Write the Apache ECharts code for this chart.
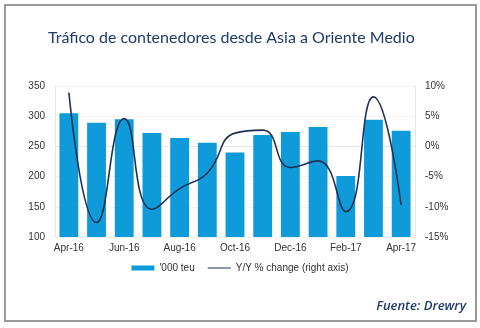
<!DOCTYPE html>
<html><head><meta charset="utf-8">
<script src="https://cdn.jsdelivr.net/npm/echarts@6/dist/echarts.min.js"></script>
<style>html,body{margin:0;padding:0;background:#fff}#c{width:480px;height:328px}</style>
</head><body><div id="c"></div>
<script>
var categories = ['Apr-16','May-16','Jun-16','Jul-16','Aug-16','Sep-16','Oct-16','Nov-16','Dec-16','Jan-17','Feb-17','Mar-17','Apr-17'];
var teu = [305, 289, 295, 272, 264, 256, 240, 269, 274, 282, 201, 294, 276];
var yoy = [8.9, -12.6, 4.6, -10.4, -7.0, -4.4, 2.2, 2.7, -3.5, -2.4, -10.8, 8.2, -9.7];
var leftTicks = [100, 350, 50];
var rightTicks = [-15, 10, 5];

var chart = echarts.init(document.getElementById('c'));
chart.setOption({
  animation: false,
  graphic: [
    {type: 'rect', shape: {x: 5, y: 5, width: 471, height: 316}, style: {fill: 'none', stroke: '#9a9a9a', lineWidth: 2}},
    {type: 'text', left: 48, top: 30, style: {text: 'Tráfico de contenedores desde Asia a Oriente Medio', fill: '#1e3a6e', font: '16px Lato, sans-serif'}},
    {type: 'text', right: 14, top: 300, style: {text: 'Fuente: Drewry', fill: '#1e3a6e', font: 'italic 600 13px "Open Sans", sans-serif'}}
  ],
  grid: {left: 55, right: 65, top: 86, bottom: 91},
  legend: {
    bottom: 50, left: 'center', itemGap: 13, itemWidth: 23, itemHeight: 5,
    textStyle: {fontFamily: 'Liberation Sans', fontSize: 10, color: '#333'},
    data: [
      {name: "'000 teu", icon: 'rect'},
      {name: 'Y/Y % change (right axis)', icon: 'path://M0,0 L23,0 L23,1 L0,1 Z'}
    ]
  },
  xAxis: {
    type: 'category', data: categories,
    axisLine: {lineStyle: {color: '#e6e6e6'}},
    axisTick: {show: false},
    axisLabel: {interval: 1, fontFamily: 'Liberation Sans', fontSize: 10, color: '#333', margin: 6}
  },
  yAxis: [
    {type: 'value', min: leftTicks[0], max: leftTicks[1], interval: leftTicks[2],
     axisLine: {show: true, lineStyle: {color: '#e6e6e6'}}, axisTick: {show: false},
     splitLine: {lineStyle: {color: '#f2f2f2'}},
     axisLabel: {fontFamily: 'Liberation Sans', fontSize: 10, color: '#333', margin: 10}},
    {type: 'value', min: rightTicks[0], max: rightTicks[1], interval: rightTicks[2],
     axisLine: {show: true, lineStyle: {color: '#e6e6e6'}}, axisTick: {show: false},
     splitLine: {show: false},
     axisLabel: {formatter: '{value}%', fontFamily: 'Liberation Sans', fontSize: 10, color: '#333', margin: 10}}
  ],
  series: [
    {name: "'000 teu", type: 'bar', data: teu, barWidth: '68%', itemStyle: {color: '#0f9bd9'}},
    {name: 'Y/Y % change (right axis)', type: 'line', yAxisIndex: 1, data: yoy, smooth: 0.5,
     showSymbol: false, lineStyle: {color: '#1f3152', width: 1.6}, itemStyle: {color: '#1f3152'}}
  ]
});
</script></body></html>
